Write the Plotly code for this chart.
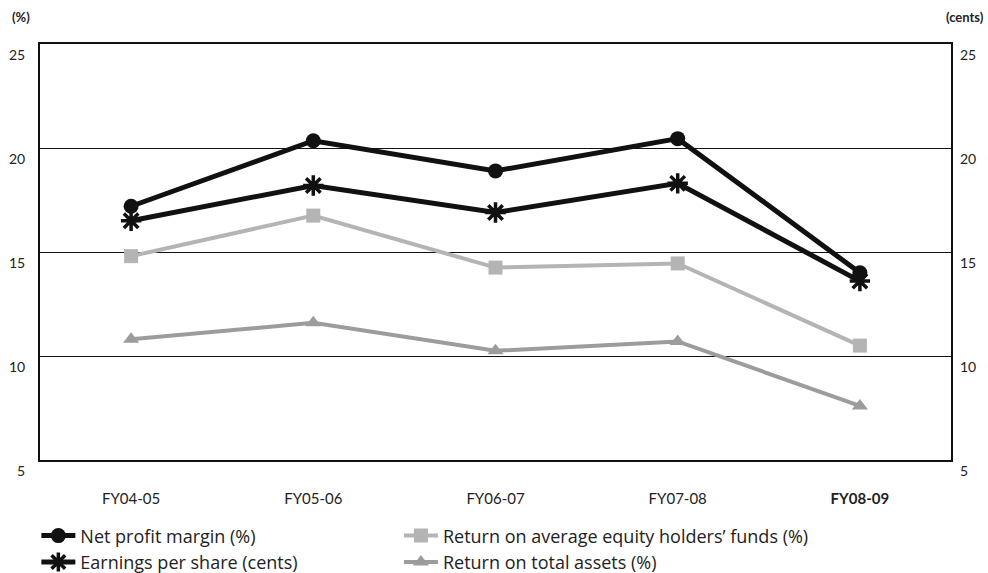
import plotly.graph_objects as go

# Financial years on the category axis
years = ["FY04-05", "FY05-06", "FY06-07", "FY07-08", "FY08-09"]
year_labels = ["FY04-05", "FY05-06", "FY06-07", "FY07-08", "<b>FY08-09</b>"]

# Series values
net_profit_margin = [17.2, 20.35, 18.9, 20.45, 14.0]      # %
earnings_per_share = [16.5, 18.2, 16.9, 18.3, 13.6]       # cents
return_on_equity = [14.8, 16.75, 14.25, 14.45, 10.5]      # %
return_on_assets = [10.8, 11.6, 10.25, 10.7, 7.6]         # %

y_ticks = [5, 10, 15, 20, 25]

FONT = "Lato"
LEGEND_FONT = "Open Sans"

fig = go.Figure()

fig.add_trace(go.Scatter(
    x=years, y=net_profit_margin, name="Net profit margin (%)",
    mode="lines+markers", legend="legend",
    line=dict(color="#111111", width=5),
    marker=dict(symbol="circle", size=15, color="#111111"),
))
fig.add_trace(go.Scatter(
    x=years, y=earnings_per_share, name="Earnings per share (cents)",
    mode="lines+markers", legend="legend", yaxis="y2",
    line=dict(color="#111111", width=5),
    marker=dict(symbol="asterisk-open", size=17,
                line=dict(color="#111111", width=3.5)),
))
fig.add_trace(go.Scatter(
    x=years, y=return_on_equity, name="Return on average equity holders\u2019 funds (%)",
    mode="lines+markers", legend="legend2",
    line=dict(color="#b4b4b4", width=4),
    marker=dict(symbol="square", size=14, color="#b4b4b4"),
))
fig.add_trace(go.Scatter(
    x=years, y=return_on_assets, name="Return on total assets (%)",
    mode="lines+markers", legend="legend2",
    line=dict(color="#9c9c9c", width=4),
    marker=dict(symbol="triangle-up", size=14, color="#9c9c9c"),
))

axis_font = dict(family=FONT, size=14, color="#222222")
legend_font = dict(family=LEGEND_FONT, size=18, color="#222222")

fig.update_layout(
    width=988, height=573,
    margin=dict(l=40, r=37, t=44, b=113, autoexpand=False),
    paper_bgcolor="white", plot_bgcolor="white",
    font=dict(family=FONT, color="#222222"),
    xaxis=dict(
        type="category", range=[-0.5, 4.5],
        tickvals=years, ticktext=year_labels,
        tickfont=dict(family=FONT, size=15, color="#222222"),
        showgrid=False, ticks="", ticklabelstandoff=24,
        showline=True, linecolor="#111111", linewidth=2, mirror=True,
        zeroline=False,
    ),
    yaxis=dict(
        range=[5, 25], tickvals=y_ticks,
        tickfont=axis_font, ticklabelshift=11, ticklabelstandoff=10,
        showgrid=True, gridcolor="#111111", gridwidth=1,
        showline=True, linecolor="#111111", linewidth=2, mirror=True,
        zeroline=False, ticks="",
    ),
    yaxis2=dict(
        range=[5, 25], tickvals=y_ticks, overlaying="y", side="right",
        tickfont=axis_font, ticklabelshift=11, ticklabelstandoff=8,
        showgrid=False, zeroline=False, ticks="", showline=False,
    ),
    legend=dict(
        orientation="v", x=-0.004, xanchor="left", y=-0.138, yanchor="top",
        font=legend_font, itemwidth=34, tracegroupgap=0,
        bgcolor="rgba(0,0,0,0)",
    ),
    legend2=dict(
        orientation="v", x=0.394, xanchor="left", y=-0.138, yanchor="top",
        font=legend_font, itemwidth=34, tracegroupgap=0,
        bgcolor="rgba(0,0,0,0)",
    ),
    annotations=[
        dict(text="<b>(%)</b>", xref="paper", yref="paper", x=-0.033, y=1.0,
             xanchor="left", yanchor="bottom", yshift=17, showarrow=False,
             font=dict(family=FONT, size=13, color="#222222")),
        dict(text="<b>(cents)</b>", xref="paper", yref="paper", x=1.038, y=1.0,
             xanchor="right", yanchor="bottom", yshift=17, showarrow=False,
             font=dict(family=FONT, size=13, color="#222222")),
    ],
)

fig.write_html("out.html")
